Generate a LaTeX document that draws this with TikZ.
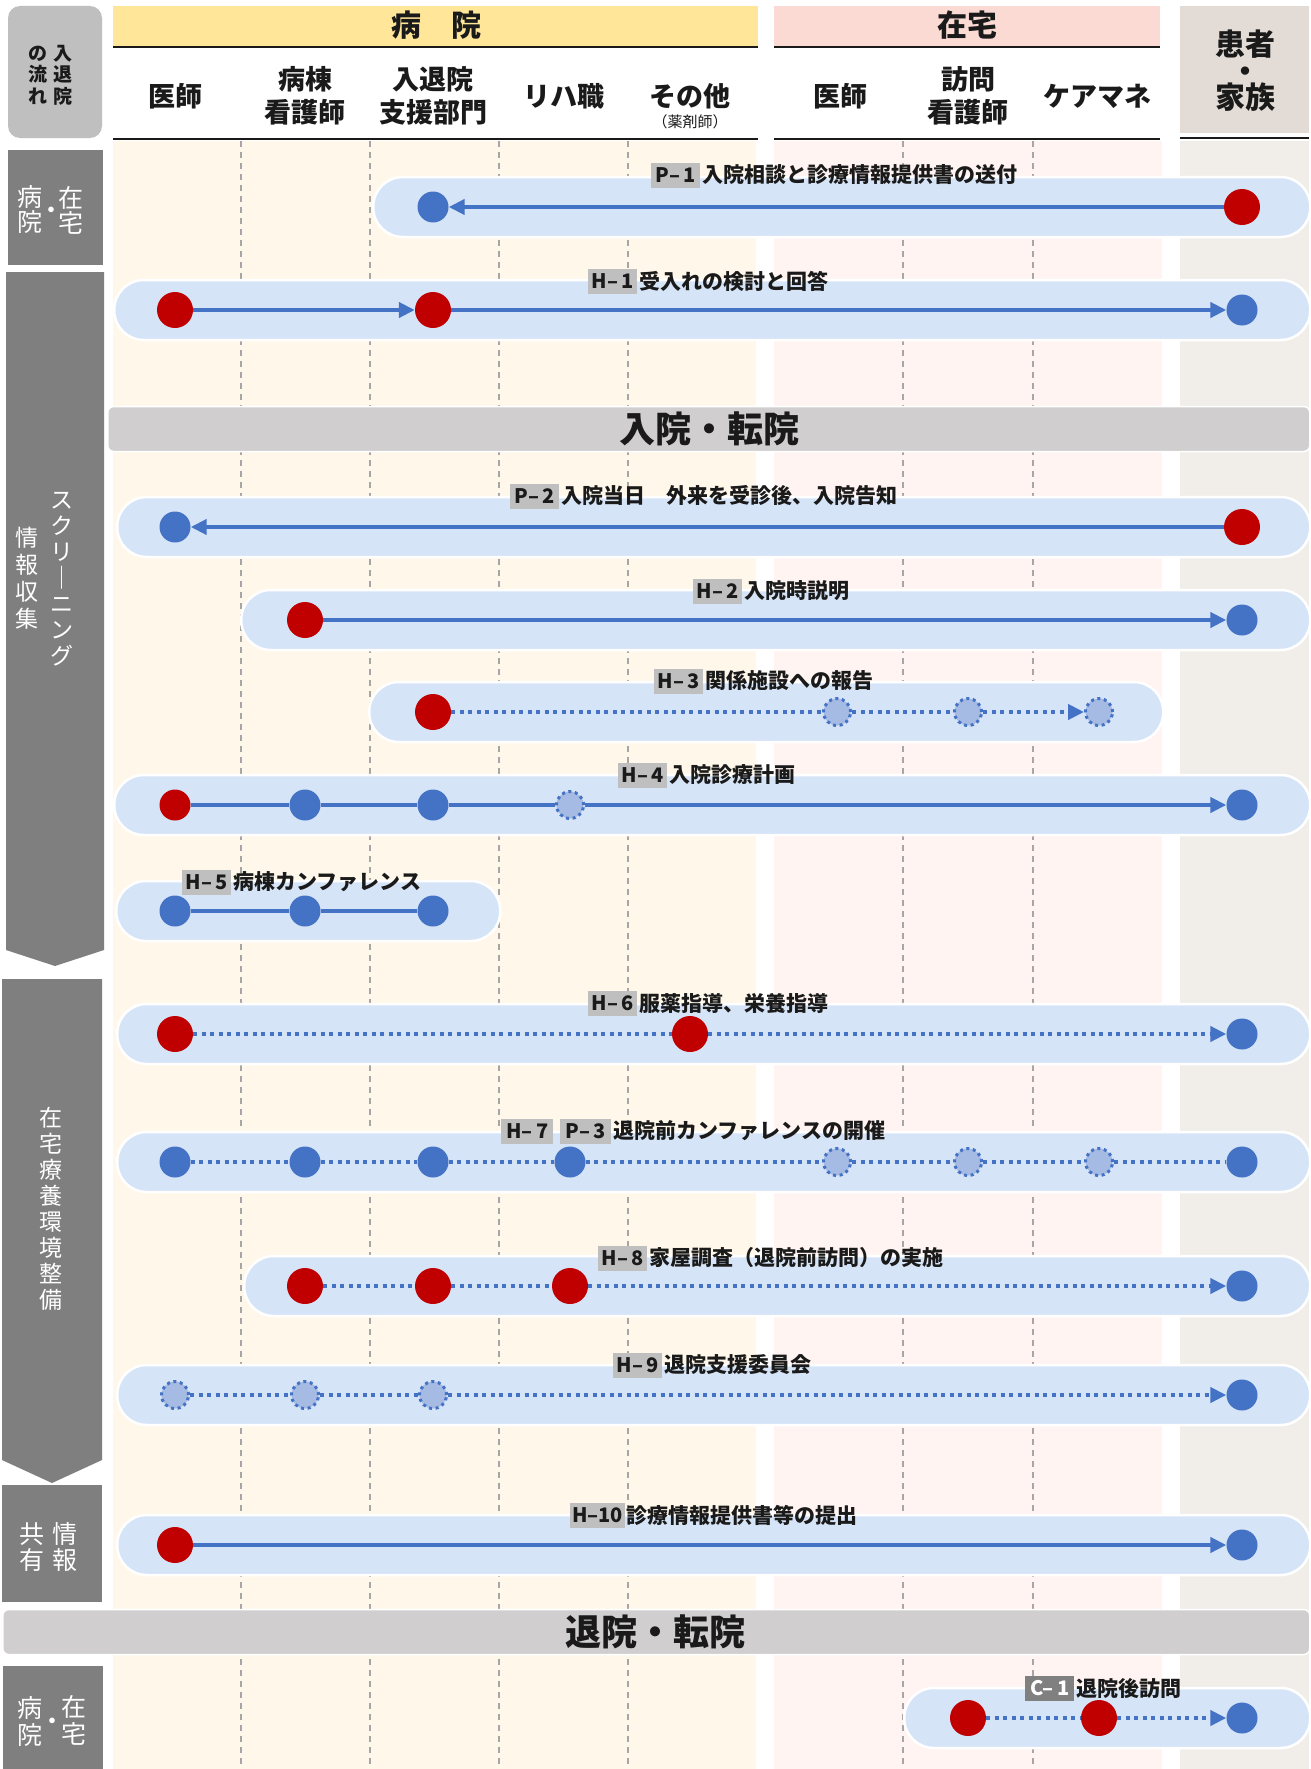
\documentclass[tikz,border=0pt]{standalone}
\usepackage{fontspec}
\setmainfont{Noto Sans CJK JP}
\usetikzlibrary{arrows.meta,shapes.geometric}
\definecolor{pillc}{HTML}{D6E4F7}
\definecolor{dotb}{HTML}{4472C4}
\definecolor{dotr}{HTML}{C00000}
\definecolor{dotl}{HTML}{A6BBE3}
\definecolor{lblg}{HTML}{BFBFBF}
\definecolor{lbld}{HTML}{808080}
\definecolor{bann}{HTML}{D0CECE}
\definecolor{side}{HTML}{7F7F7F}
\definecolor{hosbg}{HTML}{FFF8EA}
\definecolor{homebg}{HTML}{FFF4F2}
\definecolor{patbg}{HTML}{F1EEEA}
\definecolor{hosband}{HTML}{FFE699}
\definecolor{homeband}{HTML}{FADAD3}
\definecolor{patband}{HTML}{E3DCD6}
\definecolor{gridc}{HTML}{A6A6A6}
\definecolor{inkc}{HTML}{1A1A1A}
\definecolor{topbox}{HTML}{BFBFBF}
\tikzset{
  pill/.style={rectangle, rounded corners=29.5pt, fill=pillc, draw=white, line width=2.5pt, inner sep=0pt, minimum height=60pt, anchor=west},
  bd/.style={circle, fill=dotb, minimum size=31pt, inner sep=0pt},
  rd/.style={circle, fill=dotr, minimum size=36pt, inner sep=0pt},
  rds/.style={circle, fill=dotr, minimum size=31pt, inner sep=0pt},
  dd/.style={circle, fill=dotl, draw=dotb, line width=3pt, dash pattern=on 3pt off 3.6pt, minimum size=27pt, inner sep=0pt},
  sl/.style={draw=dotb, line width=4pt},
  dl/.style={draw=dotb, line width=4pt, dash pattern=on 4pt off 4.5pt},
  ar/.style={-{Triangle[length=16pt,width=15pt]}},
  code/.style={fill=lblg, font=\fontsize{20}{24}\selectfont\bfseries, text=inkc, inner xsep=3pt, inner ysep=0pt, minimum height=25pt, minimum width=49pt, anchor=west},
  dcode/.style={code, fill=lbld, text=white},
  ltxt/.style={font=\fontsize{21}{25}\selectfont\bfseries, text=inkc, inner sep=1.5pt, anchor=west},
  hdr/.style={font=\fontsize{27}{33}\selectfont\bfseries, text=inkc, align=center, inner sep=0pt},
  band/.style={font=\fontsize{30}{34}\selectfont\bfseries, text=inkc, inner sep=0pt},
  bantxt/.style={font=\fontsize{36}{40}\selectfont\bfseries, text=inkc, inner sep=0pt},
  sidetxt/.style={text=white, align=center, inner sep=0pt},
  gridl/.style={draw=gridc, line width=1.2pt, dash pattern=on 6pt off 5pt},
  hline/.style={draw=inkc, line width=2.5pt},
}
\begin{document}
\begin{tikzpicture}[x=1pt,y=-1pt]
\useasboundingbox (0,0) rectangle (1311,1769);
\fill[white] (0,0) rectangle (1311,1769);
% column backgrounds
\fill[hosbg] (113,141) rectangle (756,1769);
\fill[homebg] (774,141) rectangle (1162,1769);
\fill[patbg] (1180,141) rectangle (1309,1769);
\foreach \gx in {241,370,499,628,903,1033} {\draw[gridl] (\gx,141) -- (\gx,1769);}
% header
\node[rectangle, rounded corners=12pt, fill=topbox, minimum width=94pt, minimum height=132pt, inner sep=0pt] (flow) at (55,72) {};
\node[font=\fontsize{19}{21.5}\selectfont\bfseries, text=inkc, align=center, inner sep=0pt] (flowl) at (38,75) {の\\流\\れ};
\node[font=\fontsize{19}{21.5}\selectfont\bfseries, text=inkc, align=center, inner sep=0pt] (flowr) at (63,75) {入\\退\\院};
\fill[hosband] (113,6) rectangle (758,47);
\node[band] (hosp) at (436,25) {病　院};
\fill[homeband] (774,6) rectangle (1160,47);
\node[band] (home) at (967,25) {在宅};
\fill[patband] (1180,6) rectangle (1309,133);
\node[band, font=\fontsize{30}{26.5}\selectfont\bfseries, align=center] (pat) at (1245,71) {患者\\・\\家族};
\draw[hline] (113,47) -- (758,47);
\draw[hline] (774,47) -- (1160,47);
\draw[hline] (113,139) -- (758,139);
\draw[hline] (774,139) -- (1160,139);
\draw[hline] (1180,138) -- (1309,138);
\node[hdr] (c1) at (175,96) {医師};
\node[hdr] (c2) at (305,96) {病棟\\看護師};
\node[hdr] (c3) at (433,96) {入退院\\支援部門};
\node[hdr] (c4) at (564,96) {リハ職};
\node[hdr] (c5) at (690,96) {その他};
\node[font=\fontsize{15}{17}\selectfont, text=inkc, inner sep=0pt] (c5b) at (690,122) {（薬剤師）};
\node[hdr] (h1) at (840,96) {医師};
\node[hdr] (h2) at (968,96) {訪問\\看護師};
\node[hdr] (h3) at (1097,96) {ケアマネ};
% side labels
\fill[side] (8,150) rectangle (103,265);
\node[sidetxt, font=\fontsize{25}{25}\selectfont] (s1a) at (30,210) {病\\院};
\node[sidetxt, font=\fontsize{25}{25}\selectfont] (s1b) at (71,210) {在\\宅};
\node[sidetxt, font=\fontsize{20}{20}\selectfont\bfseries] (s1c) at (51,212) {・};
\fill[side] (6,272) -- (104,272) -- (104,950) -- (55,966) -- (6,950) -- cycle;
\node[sidetxt, font=\fontsize{23}{26}\selectfont] (s2a) at (62,579) {ス\\ク\\リ\\｜\\ニ\\ン\\グ};
\node[sidetxt, font=\fontsize{23}{27}\selectfont] (s2b) at (27,578) {情\\報\\収\\集};
\fill[side] (2,979) -- (102,979) -- (102,1460) -- (52,1483) -- (2,1460) -- cycle;
\node[sidetxt, font=\fontsize{23}{26}\selectfont] (s3) at (51,1209) {在\\宅\\療\\養\\環\\境\\整\\備};
\fill[side] (2,1485) rectangle (102,1602);
\node[sidetxt, font=\fontsize{25}{26}\selectfont] (s4a) at (65,1547) {情\\報};
\node[sidetxt, font=\fontsize{25}{26}\selectfont] (s4b) at (32,1547) {共\\有};
\fill[side] (3,1666) rectangle (103,1769);
\node[sidetxt, font=\fontsize{25}{27}\selectfont] (s5a) at (30,1721) {病\\院};
\node[sidetxt, font=\fontsize{25}{27}\selectfont] (s5b) at (74,1720) {在\\宅};
\node[sidetxt, font=\fontsize{20}{20}\selectfont\bfseries] (s5c) at (52,1723) {・};
% banners
\node[rectangle, rounded corners=6pt, fill=bann, draw=white, line width=1.5pt, minimum width=1202pt, minimum height=45pt, anchor=west] (ban1) at (107,429) {};
\node[bantxt] (ban1t) at (709,429) {入院・転院};
\node[rectangle, rounded corners=6pt, fill=bann, draw=white, line width=1.5pt, minimum width=1307pt, minimum height=45pt, anchor=west] (ban2) at (2,1632) {};
\node[bantxt] (ban2t) at (655,1632) {退院・転院};
% P-1
\node[pill, minimum width=937pt] (pP1) at (372,207) {};
\node[bd] (p1a) at (433,207) {};
\node[rd] (p1b) at (1242,207) {};
\draw[sl, ar] (p1b) -- (p1a);
\node[code] (kP1) at (651,175) {P–\,1};
\node[ltxt] (tP1) at (kP1.east) {入院相談と診療情報提供書の送付};
% H-1
\node[pill, minimum width=1196pt] (pH1) at (113,310) {};
\node[rd] (h1a) at (175,310) {};
\node[rd] (h1b) at (433,310) {};
\node[bd] (h1c) at (1242,310) {};
\draw[sl, ar] (h1a) -- (h1b);
\draw[sl, ar] (h1b) -- (h1c);
\node[code] (kH1) at (588,281) {H–\,1};
\node[ltxt] (tH1) at (kH1.east) {受入れの検討と回答};
% P-2
\node[pill, minimum width=1193pt] (pP2) at (116,527) {};
\node[bd] (p2a) at (175,527) {};
\node[rd] (p2b) at (1242,527) {};
\draw[sl, ar] (p2b) -- (p2a);
\node[code] (kP2) at (510,496) {P–\,2};
\node[ltxt] (tP2) at (kP2.east) {入院当日　外来を受診後、入院告知};
% H-2
\node[pill, minimum width=1069pt] (pH2) at (240,620) {};
\node[rd] (h2a) at (305,620) {};
\node[bd] (h2b) at (1242,620) {};
\draw[sl, ar] (h2a) -- (h2b);
\node[code] (kH2) at (693,591) {H–\,2};
\node[ltxt] (tH2) at (kH2.east) {入院時説明};
% H-3
\node[pill, minimum width=794pt] (pH3) at (368,712) {};
\node[rd] (h3a) at (433,712) {};
\node[dd] (h3b) at (837,712) {};
\node[dd] (h3c) at (968,712) {};
\node[dd] (h3d) at (1099,712) {};
\draw[dl] (h3a) -- (h3b);
\draw[dl] (h3b) -- (h3c);
\draw[dl, ar] (h3c) -- (h3d);
\node[code] (kH3) at (654,681) {H–\,3};
\node[ltxt] (tH3) at (kH3.east) {関係施設への報告};
% H-4
\node[pill, minimum width=1196pt] (pH4) at (113,805) {};
\node[rds] (h4a) at (175,805) {};
\node[bd] (h4b) at (305,805) {};
\node[bd] (h4c) at (433,805) {};
\node[dd] (h4d) at (570,805) {};
\node[bd] (h4e) at (1242,805) {};
\draw[sl] (h4a) -- (h4b);
\draw[sl] (h4b) -- (h4c);
\draw[sl] (h4c) -- (h4d);
\draw[sl, ar] (h4d) -- (h4e);
\node[code] (kH4) at (618,775) {H–\,4};
\node[ltxt] (tH4) at (kH4.east) {入院診療計画};
% H-5
\node[pill, minimum width=384pt] (pH5) at (115,911) {};
\node[bd] (h5a) at (175,911) {};
\node[bd] (h5b) at (305,911) {};
\node[bd] (h5c) at (433,911) {};
\draw[sl] (h5a) -- (h5b);
\draw[sl] (h5b) -- (h5c);
\node[code] (kH5) at (182,882) {H–\,5};
\node[ltxt] (tH5) at (kH5.east) {病棟カンファレンス};
% H-6
\node[pill, minimum width=1193pt] (pH6) at (116,1034) {};
\node[rd] (h6a) at (175,1034) {};
\node[rd] (h6b) at (690,1034) {};
\node[bd] (h6c) at (1242,1034) {};
\draw[dl] (h6a) -- (h6b);
\draw[dl, ar] (h6b) -- (h6c);
\node[code] (kH6) at (588,1003) {H–\,6};
\node[ltxt] (tH6) at (kH6.east) {服薬指導、栄養指導};
% H-7
\node[pill, minimum width=1193pt] (pH7) at (116,1162) {};
\node[bd] (h7a) at (175,1162) {};
\node[bd] (h7b) at (305,1162) {};
\node[bd] (h7c) at (433,1162) {};
\node[bd] (h7d) at (570,1162) {};
\node[dd] (h7e) at (837,1162) {};
\node[dd] (h7f) at (968,1162) {};
\node[dd] (h7g) at (1099,1162) {};
\node[bd] (h7h) at (1242,1162) {};
\draw[dl] (h7a) -- (h7b);
\draw[dl] (h7b) -- (h7c);
\draw[dl] (h7c) -- (h7d);
\draw[dl] (h7d) -- (h7e);
\draw[dl] (h7e) -- (h7f);
\draw[dl] (h7f) -- (h7g);
\draw[dl] (h7g) -- (h7h);
\node[code, minimum width=52pt] (kH7) at (501,1131) {H–\,7};
\node[code, minimum width=51pt] (kP3) at (560,1131) {P–\,3};
\node[ltxt] (tH7) at (kP3.east) {退院前カンファレンスの開催};
% H-8
\node[pill, minimum width=1066pt] (pH8) at (243,1286) {};
\node[rd] (h8a) at (305,1286) {};
\node[rd] (h8b) at (433,1286) {};
\node[rd] (h8c) at (570,1286) {};
\node[bd] (h8d) at (1242,1286) {};
\draw[dl] (h8a) -- (h8b);
\draw[dl] (h8b) -- (h8c);
\draw[dl, ar] (h8c) -- (h8d);
\node[code] (kH8) at (598,1258) {H–\,8};
\node[ltxt] (tH8) at (kH8.east) {家屋調査（退院前訪問）の実施};
% H-9
\node[pill, minimum width=1193pt] (pH9) at (116,1395) {};
\node[dd] (h9a) at (175,1395) {};
\node[dd] (h9b) at (305,1395) {};
\node[dd] (h9c) at (433,1395) {};
\node[bd] (h9d) at (1242,1395) {};
\draw[dl] (h9a) -- (h9b);
\draw[dl] (h9b) -- (h9c);
\draw[dl, ar] (h9c) -- (h9d);
\node[code] (kH9) at (613,1365) {H–\,9};
\node[ltxt] (tH9) at (kH9.east) {退院支援委員会};
% H-10
\node[pill, minimum width=1193pt] (pH10) at (116,1545) {};
\node[rd] (h10a) at (175,1545) {};
\node[bd] (h10b) at (1242,1545) {};
\draw[sl, ar] (h10a) -- (h10b);
\node[code, inner xsep=2pt] (kH10) at (570,1515) {H–10};
\node[ltxt] (tH10) at (kH10.east) {診療情報提供書等の提出};
% C-1
\node[pill, minimum width=406pt] (pC1) at (903,1718) {};
\node[rd] (c1a) at (968,1718) {};
\node[rd] (c1b) at (1099,1718) {};
\node[bd] (c1c) at (1242,1718) {};
\draw[dl] (c1a) -- (c1b);
\draw[dl, ar] (c1b) -- (c1c);
\node[dcode] (kC1) at (1025,1688) {C–\,1};
\node[ltxt] (tC1) at (kC1.east) {退院後訪問};
\end{tikzpicture}
\end{document}
